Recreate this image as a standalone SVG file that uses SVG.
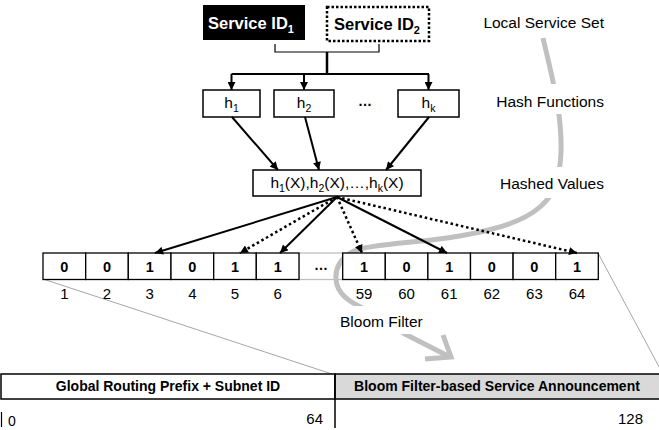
<svg xmlns="http://www.w3.org/2000/svg" width="659" height="430" viewBox="0 0 659 430">
  <defs>
    <marker id="tri" markerUnits="userSpaceOnUse" markerWidth="9" markerHeight="8" viewBox="0 0 10 10" refX="10" refY="5" orient="auto">
      <path d="M0,0 L10,5 L0,10 z" fill="#000"/>
    </marker>
    <style>
      text { font-family: "Liberation Sans", Arial, sans-serif; fill: #000; }
      .box { fill: #fff; stroke: #000; stroke-width: 1.5; }
      .cell { fill: #fff; stroke: #000; stroke-width: 1.3; }
      .bit { font-size: 14.5px; font-weight: bold; text-anchor: middle; }
      .idx { font-size: 15px; text-anchor: middle; }
      .lbl { font-size: 15.5px; text-anchor: end; }
      .hl { font-size: 15.5px; text-anchor: middle; }
      .solid { stroke: #000; stroke-width: 2; fill: none; marker-end: url(#tri); }
      .dot { stroke: #000; stroke-width: 2.5; stroke-dasharray: 2.5 2.8; fill: none; marker-end: url(#tri); }
      .thin { stroke: #a6a6a6; stroke-width: 1; fill: none; }
      .flow { stroke: #c0c0c0; stroke-width: 5; fill: none; }
      .hdr { font-size: 14px; font-weight: bold; text-anchor: middle; }
    </style>
  </defs>

  <!-- zoom outline from the filter row down to the address -->
  <line class="thin" x1="43" y1="279" x2="335" y2="375"/>
  <line class="thin" x1="598" y1="253" x2="664" y2="376"/>

  <!-- gap cell between bit 6 and bit 59 -->
  <rect x="299" y="253" width="43.7" height="26.5" fill="none" stroke="#bfbfbf" stroke-width="1.3"/>

  <!-- grey process flow curve -->
  <path class="flow" d="M543,38 C548,60 556,90 559,115 C562,140 562,160 558,175 C555,190 550,198 540,207 C525,220 500,230 447,238 C410,243 380,244 360,249 C340,255 333,270 337,285 C341,298 355,305 372,312 C385,318 392,326 405,334 L448,356"/>
  <polyline class="flow" points="425,359 451,357 443,335" stroke-linejoin="miter" stroke-linecap="butt"/>

  <!-- service identifiers -->
  <g id="service1">
    <rect x="203" y="5" width="102" height="35" fill="#000"/>
    <text x="208" y="29" font-size="16.5" font-weight="bold" style="fill:#fff">Service ID<tspan font-size="11" dy="4" style="fill:#fff">1</tspan></text>
  </g>
  <g id="service2">
    <rect x="327" y="7" width="102" height="34" fill="#fff" stroke="#000" stroke-width="2.5" stroke-dasharray="2.5 2"/>
    <text x="334" y="30" font-size="16.5" font-weight="bold">Service ID<tspan font-size="11" dy="4">2</tspan></text>
  </g>

  <!-- hash function boxes -->
  <g id="h1">
    <rect class="box" x="203" y="90" width="57" height="27"/>
    <text class="hl" x="231.5" y="108">h<tspan font-size="10.5" dy="4">1</tspan></text>
  </g>
  <g id="h2">
    <rect class="box" x="274" y="90" width="60" height="27"/>
    <text class="hl" x="304" y="108">h<tspan font-size="10.5" dy="4">2</tspan></text>
  </g>
  <text x="365" y="106" font-size="14" font-weight="bold" text-anchor="middle">…</text>
  <g id="hk">
    <rect class="box" x="398" y="90" width="61" height="27"/>
    <text class="hl" x="428.5" y="108">h<tspan font-size="10.5" dy="4">k</tspan></text>
  </g>

  <!-- hashed values box -->
  <g id="hashed">
    <rect class="box" x="253" y="170" width="168" height="26"/>
    <text class="hl" x="337" y="188">h<tspan font-size="10.5" dy="4">1</tspan><tspan dy="-4">(X),h</tspan><tspan font-size="10.5" dy="4">2</tspan><tspan dy="-4">(X),…,h</tspan><tspan font-size="10.5" dy="4">k</tspan><tspan dy="-4">(X)</tspan></text>
  </g>

  <!-- bloom filter bits -->
  <g id="bits">
    <rect class="cell" x="43" y="253" width="42.7" height="26.5"/>
    <rect class="cell" x="85.7" y="253" width="42.6" height="26.5"/>
    <rect class="cell" x="128.3" y="253" width="42.7" height="26.5"/>
    <rect class="cell" x="171" y="253" width="42.7" height="26.5"/>
    <rect class="cell" x="213.7" y="253" width="42.6" height="26.5"/>
    <rect class="cell" x="256.3" y="253" width="42.7" height="26.5"/>
    <rect class="cell" x="342.7" y="253" width="42.6" height="26.5"/>
    <rect class="cell" x="385.3" y="253" width="42.6" height="26.5"/>
    <rect class="cell" x="427.9" y="253" width="42.6" height="26.5"/>
    <rect class="cell" x="470.5" y="253" width="42.6" height="26.5"/>
    <rect class="cell" x="513.1" y="253" width="42.6" height="26.5"/>
    <rect class="cell" x="555.7" y="253" width="42.6" height="26.5"/>
    <text class="bit" x="64.3" y="272">0</text>
    <text class="bit" x="107" y="272">0</text>
    <text class="bit" x="149.7" y="272">1</text>
    <text class="bit" x="192.3" y="272">0</text>
    <text class="bit" x="235" y="272">1</text>
    <text class="bit" x="277.7" y="272">1</text>
    <text x="321" y="270" font-size="14" font-weight="bold" text-anchor="middle">…</text>
    <text class="bit" x="364" y="272">1</text>
    <text class="bit" x="406.6" y="272">0</text>
    <text class="bit" x="449.2" y="272">1</text>
    <text class="bit" x="491.8" y="272">0</text>
    <text class="bit" x="534.4" y="272">0</text>
    <text class="bit" x="577" y="272">1</text>
    <text class="idx" x="64.3" y="299">1</text>
    <text class="idx" x="107" y="299">2</text>
    <text class="idx" x="149.7" y="299">3</text>
    <text class="idx" x="192.3" y="299">4</text>
    <text class="idx" x="235" y="299">5</text>
    <text class="idx" x="277.7" y="299">6</text>
    <text class="idx" x="364" y="299">59</text>
    <text class="idx" x="406.6" y="299">60</text>
    <text class="idx" x="449.2" y="299">61</text>
    <text class="idx" x="491.8" y="299">62</text>
    <text class="idx" x="534.4" y="299">63</text>
    <text class="idx" x="577" y="299">64</text>
  </g>

  <!-- stage labels -->
  <g id="labels">
    <text class="lbl" x="604" y="28">Local Service Set</text>
    <rect x="490" y="84" width="120" height="30" fill="#fff"/>
    <text class="lbl" x="604" y="107">Hash Functions</text>
    <rect x="495" y="167" width="115" height="31" fill="#fff"/>
    <text class="lbl" x="604" y="189">Hashed Values</text>
    <rect x="336" y="306" width="95" height="28" fill="#fff"/>
    <text x="340" y="327" font-size="15.5">Bloom Filter</text>
  </g>

  <!-- connectors -->
  <g id="connectors">
    <polyline points="275,44 275,52 379,52 379,44" fill="none" stroke="#000" stroke-width="1.2"/>
    <line x1="327" y1="52" x2="327" y2="74" stroke="#000" stroke-width="2.5"/>
    <line x1="231.5" y1="74" x2="429" y2="74" stroke="#000" stroke-width="2"/>
    <line class="solid" x1="231.5" y1="74" x2="231.5" y2="90"/>
    <line class="solid" x1="304" y1="74" x2="304" y2="90"/>
    <line class="solid" x1="428.5" y1="74" x2="428.5" y2="90"/>

    <line class="solid" x1="232" y1="117" x2="278" y2="170"/>
    <line class="solid" x1="305" y1="117" x2="319" y2="170"/>
    <line class="solid" x1="429" y1="117" x2="386" y2="170"/>

    <line class="solid" x1="337" y1="197" x2="155" y2="253"/>
    <line class="dot" x1="337" y1="197" x2="240" y2="253"/>
    <line class="solid" x1="337" y1="197" x2="280" y2="253"/>
    <line class="dot" x1="337" y1="197" x2="362" y2="253"/>
    <line class="solid" x1="337" y1="197" x2="447" y2="253"/>
    <line class="dot" x1="337" y1="197" x2="577" y2="253"/>
  </g>

  <!-- IPv6 address layout -->
  <g id="address">
    <rect x="1" y="374" width="334" height="25" fill="#fff" stroke="#000" stroke-width="1.5"/>
    <rect x="335" y="374" width="330" height="25" fill="#d9d9d9" stroke="#000" stroke-width="1.5"/>
    <line x1="335" y1="374" x2="335" y2="428" stroke="#000" stroke-width="1.5"/>
    <line x1="1.5" y1="412" x2="1.5" y2="427" stroke="#000" stroke-width="1.2"/>
    <text x="8" y="426" font-size="14">0</text>
    <text x="323" y="424" font-size="15" text-anchor="end">64</text>
    <text x="643" y="424" font-size="15" text-anchor="end">128</text>
    <text class="hdr" x="168" y="391">Global Routing Prefix + Subnet ID</text>
    <text class="hdr" x="497" y="391">Bloom Filter-based Service Announcement</text>
  </g>
</svg>
